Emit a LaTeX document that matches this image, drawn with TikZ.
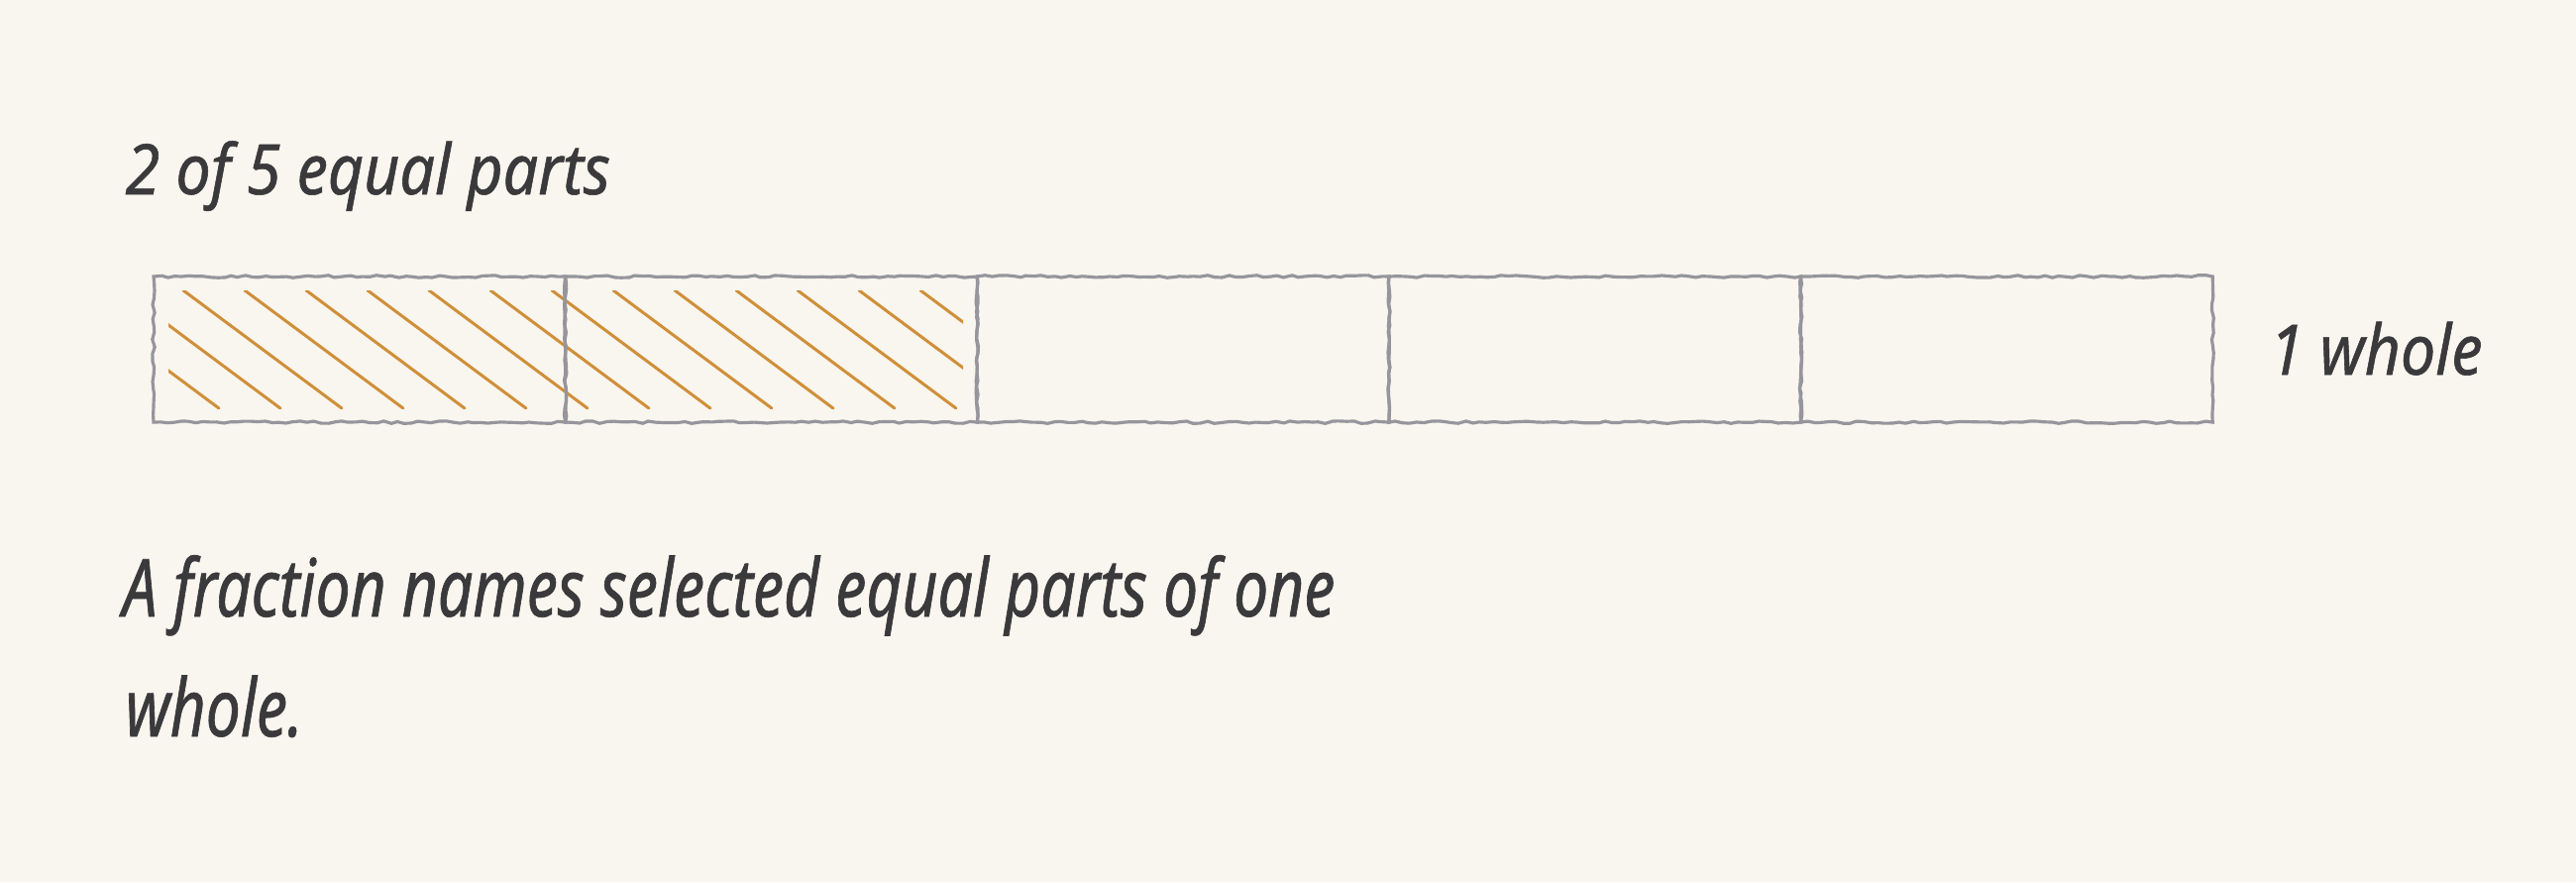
\documentclass[tikz,border=0pt]{standalone}
\usepackage{fontspec}
\usetikzlibrary{decorations.pathmorphing}
\setmainfont{Noto Sans}
\newfontfamily\handA[FakeStretch=0.89,FakeBold=0.8]{Noto Sans}
\newfontfamily\handB[FakeStretch=0.77,FakeBold=0.8]{Noto Sans}
\definecolor{bg}{HTML}{F8F6EE}
\definecolor{ink}{HTML}{3A393B}
\definecolor{edge}{HTML}{96959C}
\definecolor{hatchc}{HTML}{D08F3A}
\pgfmathsetseed{7}
\tikzset{
  lbl/.style={inner sep=0pt, text=ink, font=\handA\itshape\fontsize{20}{24}\selectfont},
  body/.style={inner sep=0pt, text=ink, font=\handB\itshape\fontsize{23}{28}\selectfont},
  cell/.style={draw=edge, line width=0.9pt, minimum width=4.154cm, minimum height=1.47cm, inner sep=0pt, outer sep=0pt, anchor=north west,
    decorate, decoration={random steps, segment length=2pt, amplitude=0.35pt}},
  hatch/.style={draw=hatchc, line width=0.85pt, line cap=round}
}
\begin{document}
\begin{tikzpicture}[x=0.01cm,y=-0.01cm]
\fill[bg] (0,0) rectangle (2600,890);
\useasboundingbox (0,0) rectangle (2600,890);
\node[lbl, anchor=base west] (title) at (126,196) {2 of 5 equal parts};
\begin{scope}
  \clip (170,293) rectangle (972,412);
  \foreach \k in {-3,...,13} \draw[hatch] (185+62*\k,293) -- ++(160,119);
\end{scope}
\node[cell] (p1) at (155,279) {};
\node[cell] (p2) at (p1.north east) {};
\node[cell] (p3) at (p2.north east) {};
\node[cell] (p4) at (p3.north east) {};
\node[cell] (p5) at (p4.north east) {};
\node[lbl, anchor=base west] (whole) at (2290,378) {1 whole};
\node[body, anchor=base west] (s1) at (123,622) {A fraction names selected equal parts of one};
\node[body, anchor=base west] (s2) at (126,743) {whole.};
\end{tikzpicture}
\end{document}
